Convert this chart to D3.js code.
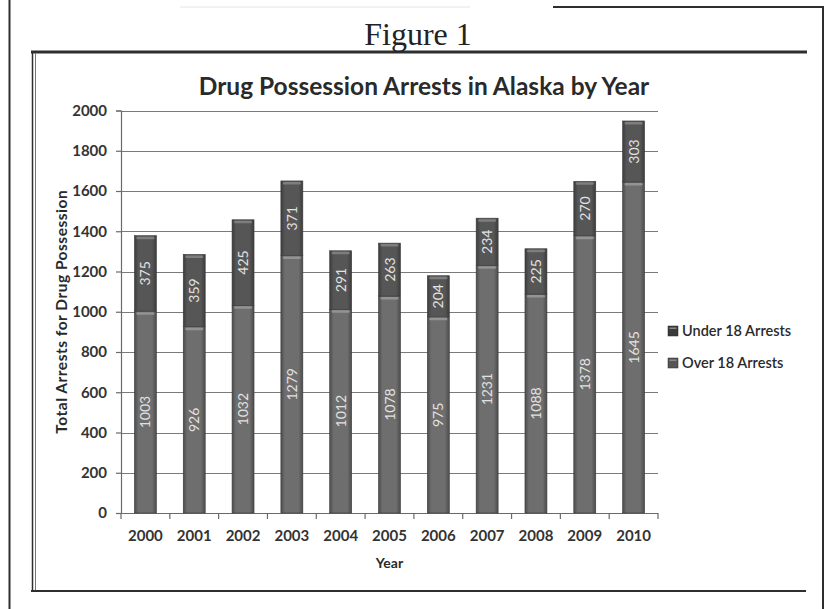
<!DOCTYPE html>
<html>
<head>
<meta charset="utf-8">
<script src="https://cdn.jsdelivr.net/npm/d3@7"></script>
<style>
  html, body { margin: 0; padding: 0; background: #fff; }
  svg { display: block; }
  text { font-family: Lato, "Open Sans", sans-serif; }
</style>
</head>
<body>
<svg id="chart" width="827" height="609"></svg>
<script>
// Drug possession arrests in Alaska, split by age group
const years = ["2000","2001","2002","2003","2004","2005","2006","2007","2008","2009","2010"];
const over18 = [1003, 926, 1032, 1279, 1012, 1078, 975, 1231, 1088, 1378, 1645];
const under18 = [375, 359, 425, 371, 291, 263, 204, 234, 225, 270, 303];
const yTicks = [0, 200, 400, 600, 800, 1000, 1200, 1400, 1600, 1800, 2000];
const seriesNames = ["Under 18 Arrests", "Over 18 Arrests"];

const svg = d3.select("#chart");

// Page frame
const frame = svg.append("g").attr("stroke", "#2e2e2e").attr("fill", "none");
frame.append("line").attr("x1", 9.5).attr("x2", 9.5).attr("y1", 0).attr("y2", 609).attr("stroke-width", 2);
frame.append("line").attr("x1", 823).attr("x2", 823).attr("y1", 7).attr("y2", 609).attr("stroke-width", 2);
frame.append("line").attr("x1", 553).attr("x2", 824).attr("y1", 7).attr("y2", 7).attr("stroke-width", 2);
frame.append("line").attr("x1", 180).attr("x2", 470).attr("y1", 7).attr("y2", 7).attr("stroke-width", 1).attr("stroke", "#e4e4e4");
frame.append("line").attr("x1", 31).attr("x2", 807).attr("y1", 52).attr("y2", 52).attr("stroke-width", 3);
frame.append("line").attr("x1", 32.5).attr("x2", 32.5).attr("y1", 51).attr("y2", 592).attr("stroke-width", 1.5);
frame.append("line").attr("x1", 35.5).attr("x2", 35.5).attr("y1", 53).attr("y2", 590).attr("stroke-width", 1).attr("stroke", "#777");
frame.append("line").attr("x1", 31).attr("x2", 806).attr("y1", 591).attr("y2", 591).attr("stroke-width", 2);

// Figure caption
svg.append("text")
  .attr("x", 418).attr("y", 45)
  .attr("text-anchor", "middle")
  .style("font-family", "'Liberation Serif', 'DejaVu Serif', serif")
  .style("font-size", "32px")
  .attr("fill", "#222")
  .text("Figure 1");

// Chart title
svg.append("text")
  .attr("x", 424).attr("y", 95)
  .attr("text-anchor", "middle")
  .style("font-size", "24.5px").style("font-weight", "700")
  .attr("fill", "#2a2a2a")
  .text("Drug Possession Arrests in Alaska by Year");

// Plot area
const plot = { left: 121, right: 658, top: 110.5, bottom: 513 };

const x = d3.scaleBand().domain(years).range([plot.left, plot.right]).paddingInner(0.55).paddingOuter(0.275);
const xOuter = d3.scaleBand().domain(years).range([plot.left, plot.right]);
const y = d3.scaleLinear().domain([0, 2000]).range([plot.bottom, plot.top]);

// Horizontal gridlines
svg.append("g")
  .selectAll("line")
  .data(yTicks.filter(d => d > 0))
  .join("line")
  .attr("x1", plot.left).attr("x2", plot.right)
  .attr("y1", d => Math.round(y(d)) + 0.5).attr("y2", d => Math.round(y(d)) + 0.5)
  .attr("stroke", "#7a7a7a").attr("stroke-width", 1.2);

// Y axis
const yAxis = svg.append("g")
  .attr("transform", `translate(${plot.left},0)`)
  .call(d3.axisLeft(y).tickValues(yTicks).tickSize(5).tickPadding(9).tickFormat(d3.format("d")));
yAxis.select(".domain").attr("stroke", "#6a6a6a").attr("stroke-width", 1.2);
yAxis.selectAll(".tick line").attr("stroke", "#6a6a6a").attr("stroke-width", 1.2);
yAxis.selectAll(".tick text")
  .style("font-family", "Lato, sans-serif").style("font-size", "15px").style("font-weight", "700")
  .attr("fill", "#333");

// X axis with tick marks between categories
const xAxis = svg.append("g")
  .attr("transform", `translate(0,${plot.bottom})`)
  .call(d3.axisBottom(x).tickSize(0).tickPadding(17));
xAxis.select(".domain").remove();
xAxis.append("line").attr("x1", plot.left).attr("x2", plot.right).attr("y1", 0.5).attr("y2", 0.5)
  .attr("stroke", "#6a6a6a").attr("stroke-width", 1.2);
xAxis.selectAll(".tickmark")
  .data(years.map(d => xOuter(d)).concat([plot.right]))
  .join("line")
  .attr("class", "tickmark")
  .attr("x1", d => d).attr("x2", d => d).attr("y1", 0).attr("y2", 6)
  .attr("stroke", "#6a6a6a").attr("stroke-width", 1.2);
xAxis.selectAll(".tick text")
  .style("font-family", "Lato, sans-serif").style("font-size", "15px").style("font-weight", "700")
  .attr("fill", "#333");

// Axis titles
svg.append("text")
  .attr("x", (plot.left + plot.right) / 2).attr("y", 568)
  .attr("text-anchor", "middle")
  .style("font-size", "14px").style("font-weight", "700").attr("fill", "#2a2a2a")
  .text("Year");
svg.append("text")
  .attr("transform", `translate(67,${(plot.top + plot.bottom) / 2}) rotate(-90)`)
  .attr("text-anchor", "middle")
  .style("font-size", "15.5px").style("font-weight", "700").style("letter-spacing", "0.5px")
  .attr("fill", "#2a2a2a")
  .text("Total Arrests for Drug Possession");

// Cylinder-like shading for the bar segments
const defs = svg.append("defs");
function shade(id, edge, mid) {
  const g = defs.append("linearGradient").attr("id", id).attr("x1", "0%").attr("x2", "100%");
  g.append("stop").attr("offset", "0%").attr("stop-color", edge);
  g.append("stop").attr("offset", "18%").attr("stop-color", mid);
  g.append("stop").attr("offset", "80%").attr("stop-color", mid);
  g.append("stop").attr("offset", "100%").attr("stop-color", edge);
}
shade("gOver", "#4c4c4c", "#6e6e6e");
shade("gUnder", "#3c3c3c", "#565656");

const stacked = years.map((yr, i) => ({ year: yr, over: over18[i], under: under18[i] }));
const segs = [];
stacked.forEach(d => {
  segs.push({ year: d.year, y0: 0, y1: d.over, value: d.over, fill: "url(#gOver)", hi: "#9a9a9a" });
  segs.push({ year: d.year, y0: d.over, y1: d.over + d.under, value: d.under, fill: "url(#gUnder)", hi: "#858585" });
});

const bars = svg.append("g");
const segG = bars.selectAll("g").data(segs).join("g");
segG.append("rect")
  .attr("x", d => x(d.year)).attr("width", x.bandwidth())
  .attr("y", d => y(d.y1)).attr("height", d => y(d.y0) - y(d.y1))
  .attr("fill", d => d.fill)
  .attr("stroke", "#3a3a3a").attr("stroke-width", 0.6);
// Top highlight of each segment
segG.append("rect")
  .attr("x", d => x(d.year) + 2).attr("width", x.bandwidth() - 4)
  .attr("y", d => y(d.y1) + 1).attr("height", 2.5)
  .attr("rx", 1)
  .attr("fill", d => d.hi).attr("opacity", 0.85);

// Value labels, rotated inside each segment
segG.append("text")
  .attr("transform", d => `translate(${x(d.year) + x.bandwidth() / 2 + 5},${(y(d.y0) + y(d.y1)) / 2}) rotate(-90)`)
  .attr("text-anchor", "middle")
  .style("font-size", "14px")
  .attr("fill", "#e2e2e2")
  .text(d => d.value);

// Legend
const legend = svg.append("g").attr("transform", "translate(668,0)");
const legendFill = ["#3a3a3a", "#555555"];
seriesNames.forEach((name, i) => {
  const ly = 331 + i * 32;
  legend.append("rect").attr("x", 0).attr("y", ly - 5).attr("width", 10).attr("height", 10)
    .attr("fill", legendFill[i]).attr("stroke", "#2a2a2a").attr("stroke-width", 0.5);
  legend.append("rect").attr("x", 1.5).attr("y", ly - 3.5).attr("width", 7).attr("height", 1.5)
    .attr("fill", "#8a8a8a");
  legend.append("text").attr("x", 14).attr("y", ly + 5)
    .style("font-size", "14.5px").style("font-weight", "600").attr("fill", "#2a2a2a")
    .text(name);
});
</script>
</body>
</html>
